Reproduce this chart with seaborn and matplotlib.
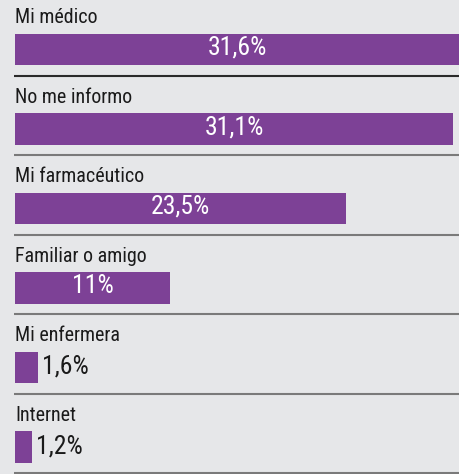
import matplotlib
matplotlib.use("Agg")
import matplotlib.pyplot as plt
import seaborn as sns

# Data
categories = ["Mi médico", "No me informo", "Mi farmacéutico",
              "Familiar o amigo", "Mi enfermera", "Internet"]
values = [31.6, 31.1, 23.5, 11.0, 1.6, 1.2]
value_labels = ["31,6%", "31,1%", "23,5%", "11%", "1,6%", "1,2%"]

PURPLE = "#7d4196"
BG = "#e6e7e9"
FONT = ["Roboto Condensed", "Liberation Sans", "DejaVu Sans"]

sns.set_theme(style="white")
plt.rcParams["font.family"] = FONT

fig = plt.figure(figsize=(4.6, 4.74), dpi=100, facecolor=BG)
ax = fig.add_axes([0, 0, 1, 1])
ax.set_facecolor(BG)

sns.barplot(x=values, y=categories, orient="h", color=PURPLE,
            saturation=1, width=0.39, linewidth=0, ax=ax)

# pixel geometry: row pitch 79.5 px, first row centre at 49.5 px
ax.set_xlim(-15 / 14.08, 31.6)
ax.set_ylim((474 - 49.5) / 79.5, -49.5 / 79.5)
ax.axis("off")

for i, (cat, val, lab) in enumerate(zip(categories, values, value_labels)):
    # category label above the bar
    ax.text(0, i - 0.333, cat, ha="left", va="baseline",
            fontsize=14.4, color="#1a1a1a")
    # value label
    if val > 5:
        ax.text(val / 2, i - 0.02, lab, ha="center", va="center",
                fontsize=18.5, color="white")
    else:
        ax.annotate(lab, (val, i - 0.01), xytext=(3, 0),
                    textcoords="offset points", ha="left", va="center",
                    fontsize=18.5, color="#1a1a1a")
    # separator line below the row
    ax.plot([-0.05, 31.6], [i + 0.331, i + 0.331],
            color="#2a2a2a" if i == 0 else "#7a7a7a", lw=1.5,
            solid_capstyle="butt")

fig.savefig("out.png", dpi=100, facecolor=BG)
